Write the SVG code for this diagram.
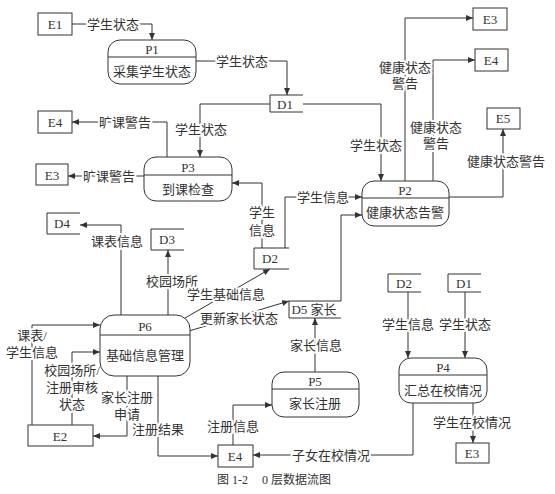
<svg xmlns="http://www.w3.org/2000/svg" width="555" height="494" viewBox="0 0 555 494">
<style>
.box{fill:#fff;stroke:#333;stroke-width:1}
.ds{fill:none;stroke:#333;stroke-width:1}
.proc{fill:#fff;stroke:#333;stroke-width:1}
.div{stroke:#333;stroke-width:1}
.c{fill:none;stroke:#333;stroke-width:1;marker-end:url(#ah)}
text{font-family:"Liberation Serif","Noto Sans CJK SC",serif;font-size:13px;fill:#333;text-anchor:middle;dominant-baseline:central}
.lbl{paint-order:stroke;stroke:#fff;stroke-width:4px;stroke-linejoin:round}
.cap{font-size:12px;text-anchor:start}
</style>
<defs>
<marker id="ah" viewBox="0 0 7 6" refX="7" refY="3" markerWidth="7" markerHeight="6" markerUnits="userSpaceOnUse" orient="auto">
<path d="M0,0 L7,3 L0,6 z" fill="#333"/>
</marker>
</defs>
<rect width="555" height="494" fill="#fff"/>

<g id="connectors">
<path class="c" d="M72,24 H152 V40"/>
<path class="c" d="M196,61 H287 V95"/>
<path class="c" d="M270,104 H200 V157"/>
<path class="c" d="M303,104 H381 V181"/>
<path class="c" d="M405,181 V18 H473"/>
<path class="c" d="M433,181 V60 H475"/>
<path class="c" d="M449,197 H503 V129"/>
<path class="c" d="M167,157 V122 H72"/>
<path class="c" d="M144,176 H68"/>
<path class="c" d="M262,248 V183 H232"/>
<path class="c" d="M285,248 V197 H362"/>
<path class="c" d="M341,301 V215 H362"/>
<path class="c" d="M121,315 V225 H80"/>
<path class="c" d="M168,315 V250"/>
<path class="c" d="M185,318 L270,269"/>
<path class="c" d="M189,331 L289,301"/>
<path class="c" d="M32,425 V325 H100"/>
<path class="c" d="M72,425 V352 H100"/>
<path class="c" d="M127,376 V436 H93"/>
<path class="c" d="M158,376 V456 H218"/>
<path class="c" d="M233,445 V405 H272"/>
<path class="c" d="M315,372 V318"/>
<path class="c" d="M408,292 V358"/>
<path class="c" d="M465,292 V358"/>
<path class="c" d="M473,403 V443"/>
<path class="c" d="M413,403 V455 H253"/>
</g>

<g id="labels">
<text class="lbl" x="113" y="24">学生状态</text>
<text class="lbl" x="242" y="61">学生状态</text>
<text class="lbl" x="201" y="129">学生状态</text>
<text class="lbl" x="376" y="145">学生状态</text>
<text class="lbl" x="405" y="67">健康状态</text>
<text class="lbl" x="405" y="83">警告</text>
<text class="lbl" x="436" y="127">健康状态</text>
<text class="lbl" x="436" y="143">警告</text>
<text class="lbl" x="506" y="161">健康状态警告</text>
<text class="lbl" x="125" y="122">旷课警告</text>
<text class="lbl" x="109" y="176">旷课警告</text>
<text class="lbl" x="262" y="212">学生</text>
<text class="lbl" x="262" y="230">信息</text>
<text class="lbl" x="323" y="197">学生信息</text>
<text class="lbl" x="117" y="241">课表信息</text>
<text class="lbl" x="172" y="281">校园场所</text>
<text class="lbl" x="226" y="294">学生基础信息</text>
<text class="lbl" x="239" y="318">更新家长状态</text>
<text class="lbl" x="316" y="345">家长信息</text>
<text class="lbl" x="408" y="324">学生信息</text>
<text class="lbl" x="465" y="324">学生状态</text>
<text class="lbl" x="472" y="422">学生在校情况</text>
<text class="lbl" x="331" y="455">子女在校情况</text>
<text class="lbl" x="233" y="426">注册信息</text>
<text class="lbl" x="158" y="429">注册结果</text>
<text class="lbl" x="127" y="397">家长注册</text>
<text class="lbl" x="127" y="414">申请</text>
<text class="lbl" x="72" y="370">校园场所/</text>
<text class="lbl" x="72" y="387">注册审核</text>
<text class="lbl" x="72" y="404">状态</text>
<text class="lbl" x="32" y="335">课表/</text>
<text class="lbl" x="32" y="352">学生信息</text>
</g>

<g id="E1"><rect class="box" x="38" y="13" width="34" height="22"/><text x="55" y="24">E1</text></g>
<g id="E4-left"><rect class="box" x="38" y="111" width="34" height="22"/><text x="55" y="122">E4</text></g>
<g id="E3-left"><rect class="box" x="36" y="164" width="32" height="21"/><text x="52" y="175">E3</text></g>
<g id="E3-top"><rect class="box" x="473" y="8" width="34" height="22"/><text x="490" y="19">E3</text></g>
<g id="E4-top"><rect class="box" x="475" y="49" width="33" height="22"/><text x="491" y="60">E4</text></g>
<g id="E5"><rect class="box" x="487" y="108" width="33" height="21"/><text x="503" y="118">E5</text></g>
<g id="E2"><rect class="box" x="28" y="425" width="65" height="21"/><text x="60" y="436">E2</text></g>
<g id="E4-bottom"><rect class="box" x="218" y="445" width="35" height="22"/><text x="235" y="456">E4</text></g>
<g id="E3-bottom"><rect class="box" x="456" y="443" width="33" height="20"/><text x="472" y="453">E3</text></g>

<g id="D1"><path class="ds" d="M303,95 H270 V112 H303"/><text x="285" y="104">D1</text></g>
<g id="D2"><path class="ds" d="M289,248 H254 V269 H289"/><text x="270" y="258">D2</text></g>
<g id="D3"><path class="ds" d="M184,229 H151 V250 H184"/><text x="167" y="239">D3</text></g>
<g id="D4"><path class="ds" d="M80,213 H47 V234 H80"/><text x="62" y="223">D4</text></g>
<g id="D5"><path class="ds" d="M341,301 H289 V318 H341"/><text x="314" y="309">D5 家长</text></g>
<g id="D2-right"><path class="ds" d="M421,274 H388 V292 H421"/><text x="404" y="283">D2</text></g>
<g id="D1-right"><path class="ds" d="M481,274 H448 V292 H481"/><text x="464" y="283">D1</text></g>

<g id="P1"><rect class="proc" x="108" y="40" width="88" height="44" rx="12"/><line class="div" x1="108" y1="57" x2="196" y2="57"/><text x="152" y="49">P1</text><text x="152" y="71">采集学生状态</text></g>
<g id="P3"><rect class="proc" x="144" y="157" width="88" height="44" rx="12"/><line class="div" x1="144" y1="175" x2="232" y2="175"/><text x="188" y="167">P3</text><text x="188" y="189">到课检查</text></g>
<g id="P2"><rect class="proc" x="362" y="181" width="87" height="45" rx="12"/><line class="div" x1="362" y1="198" x2="449" y2="198"/><text x="405" y="190">P2</text><text x="405" y="212">健康状态告警</text></g>
<g id="P6"><rect class="proc" x="100" y="315" width="90" height="61" rx="14"/><line class="div" x1="100" y1="335" x2="190" y2="335"/><text x="145" y="326">P6</text><text x="145" y="355">基础信息管理</text></g>
<g id="P5"><rect class="proc" x="272" y="372" width="87" height="45" rx="12"/><line class="div" x1="272" y1="389" x2="359" y2="389"/><text x="315" y="381">P5</text><text x="315" y="403">家长注册</text></g>
<g id="P4"><rect class="proc" x="399" y="358" width="88" height="45" rx="12"/><line class="div" x1="399" y1="375" x2="487" y2="375"/><text x="443" y="367">P4</text><text x="443" y="390">汇总在校情况</text></g>

<text class="cap" x="217" y="480">图 1-2<tspan x="262">0 层数据流图</tspan></text>
</svg>
